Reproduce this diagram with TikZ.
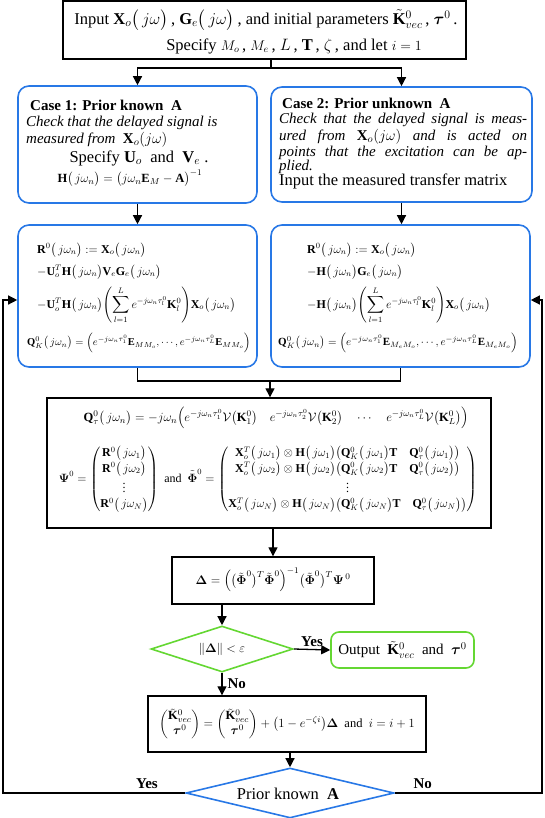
\RequirePackage{fix-cm}
\documentclass[tikz,border=0pt]{standalone}
\usepackage{amsmath}
\usepackage{fontspec}
\setmainfont{Liberation Serif}
\usetikzlibrary{shapes.geometric,arrows.meta}
\definecolor{bluebox}{RGB}{40,120,230}
\definecolor{greenbox}{RGB}{100,215,50}
\newcommand{\pj}[1]{\bigl(\,j\omega_{#1}\bigr)}
\newcommand{\pjw}{\bigl(\,j\omega\bigr)}
\newcommand{\fsz}[1]{\fontsize{#1}{#1}\selectfont}
\tikzset{
  blackbox/.style={draw=black, line width=1.4pt, inner sep=0pt},
  rbox/.style={draw=bluebox, line width=1.6pt, rounded corners=11pt, inner sep=0pt},
  gbox/.style={draw=greenbox, line width=1.6pt, rounded corners=8pt, inner sep=0pt},
  gdiamond/.style={diamond, draw=greenbox, line width=1.6pt, inner sep=0pt},
  bdiamond/.style={diamond, draw=bluebox, line width=1.6pt, inner sep=0pt},
  conn/.style={draw=black, line width=1.3pt},
  arr/.style={conn, -{Triangle[length=9pt,width=9pt]}},
  txtbig/.style={inner sep=0pt, font=\fontsize{16.5}{19}\selectfont},
  boldt/.style={inner sep=0pt, font=\bfseries\fontsize{15}{17}\selectfont},
  itt/.style={inner sep=0pt, font=\itshape\fontsize{15}{17}\selectfont},
  mth/.style={inner sep=0pt, font=\fontsize{12.5}{15}\selectfont},
  mths/.style={inner sep=0pt, font=\fontsize{12}{14}\selectfont},
  lbl/.style={inner sep=1pt, font=\bfseries\fontsize{15}{17}\selectfont},
}
\begin{document}
\begin{tikzpicture}[x=1pt,y=-1pt]
\useasboundingbox (0,0) rectangle (545,818);
% top box
\node[blackbox, minimum width=403pt, minimum height=58pt] (top) at (264.5,30) {};
\node[txtbig] (t1) at (266,20) {Input $\mathbf{X}_o\pjw$\,, $\mathbf{G}_e\pjw$\,, and initial parameters $\tilde{\mathbf{K}}^0_{vec}$\,, $\boldsymbol{\tau}^0$\,.};
\node[txtbig] (t2) at (294,46) {Specify {\fsz{14}$M_o$}\,, {\fsz{14}$M_e$}\,, $L$\,, $\mathbf{T}$\,, $\zeta$\,, and let {\fsz{14}$i=1$}};
% case 1
\node[rbox, minimum width=239pt, minimum height=117pt] (c1) at (137.5,144.5) {};
\node[boldt, anchor=west] (c1a) at (30,105) {Case 1: Prior known \ $\mathbf{A}$};
\node[itt, anchor=west] (c1b) at (26,123) {Check that the delayed signal is};
\node[itt, anchor=west] (c1c) at (26,140) {measured from \ $\mathbf{X}_o(j\omega)$};
\node[txtbig] (c1d) at (139,158) {Specify $\mathbf{U}_o$ \ and \ $\mathbf{V}_e$ .};
\node[mth] (c1e) at (130,178) {$\mathbf{H}\pj{n}=\bigl(j\omega_n\mathbf{E}_M-\mathbf{A}\bigr)^{-1}$};
% case 2
\node[rbox, minimum width=261pt, minimum height=115pt] (c2) at (401.5,144.5) {};
\node[boldt, anchor=west] (c2a) at (282,103) {Case 2: Prior unknown \ $\mathbf{A}$};
\node[itt, anchor=west] (c2b) at (279,120) {\makebox[248pt][s]{Check that the delayed signal is meas-}};
\node[itt, anchor=west] (c2c) at (279,137) {\makebox[248pt][s]{ured from $\mathbf{X}_o(j\omega)$ and is acted on}};
\node[itt, anchor=west] (c2d) at (279,153) {\makebox[248pt][s]{points that the excitation can be ap-}};
\node[itt, anchor=west] (c2e) at (279,167) {plied.};
\node[txtbig, anchor=west] (c2f) at (279,181) {Input the measured transfer matrix};
% formula box 1
\node[rbox, minimum width=239pt, minimum height=142pt] (f1) at (137.5,296) {};
\node[mths, anchor=west] (f1a) at (37,250) {$\mathbf{R}^0\pj{n}:=\mathbf{X}_o\pj{n}$};
\node[mths, anchor=west] (f1b) at (37,272) {$-\mathbf{U}_o^T\mathbf{H}\pj{n}\mathbf{V}_e\mathbf{G}_e\pj{n}$};
\node[mths, anchor=west] (f1c) at (37,305) {$-\mathbf{U}_o^T\mathbf{H}\pj{n}\!\left(\displaystyle\sum_{l=1}^{L}e^{-j\omega_n\tau_l^0}\mathbf{K}_l^0\right)\!\mathbf{X}_o\pj{n}$};
\node[anchor=west, inner sep=0pt, font=\fsz{10.5}] (f1d) at (27,343) {$\mathbf{Q}_K^0\pj{n}=\Bigl(e^{-j\omega_n\tau_1^0}\mathbf{E}_{MM_o}{,}\cdots{,}\,e^{-j\omega_n\tau_L^0}\mathbf{E}_{MM_o}\Bigr)$};
% formula box 2
\node[rbox, minimum width=259pt, minimum height=142pt] (f2) at (400.5,296) {};
\node[mths, anchor=west] (f2a) at (307,250) {$\mathbf{R}^0\pj{n}:=\mathbf{X}_o\pj{n}$};
\node[mths, anchor=west] (f2b) at (307,272) {$-\mathbf{H}\pj{n}\mathbf{G}_e\pj{n}$};
\node[mths, anchor=west] (f2c) at (307,305) {$-\mathbf{H}\pj{n}\!\left(\displaystyle\sum_{l=1}^{L}e^{-j\omega_n\tau_l^0}\mathbf{K}_l^0\right)\!\mathbf{X}_o\pj{n}$};
\node[anchor=west, inner sep=0pt, font=\fsz{11}] (f2d) at (278,343) {$\mathbf{Q}_K^0\pj{n}=\Bigl(e^{-j\omega_n\tau_1^0}\mathbf{E}_{M_eM_o}{,}\cdots{,}\,e^{-j\omega_n\tau_L^0}\mathbf{E}_{M_eM_o}\Bigr)$};
% big box
\node[blackbox, minimum width=444pt, minimum height=130pt] (big) at (269,463) {};
\node[mth] (bq) at (276,418) {$\mathbf{Q}_\tau^0\pj{n}=-j\omega_n\Bigl(e^{-j\omega_n\tau_1^0}\mathcal{V}\bigl(\mathbf{K}_1^0\bigr)\quad e^{-j\omega_n\tau_2^0}\mathcal{V}\bigl(\mathbf{K}_2^0\bigr)\quad\cdots\quad e^{-j\omega_n\tau_L^0}\mathcal{V}\bigl(\mathbf{K}_L^0\bigr)\Bigr)$};
\node[mths] (bm) at (268,479) {\renewcommand{\arraystretch}{1.12}$\boldsymbol{\Psi}^0=\begin{pmatrix}\mathbf{R}^0\pj{1}\\ \mathbf{R}^0\pj{2}\\ \vdots\\ \mathbf{R}^0\pj{N}\end{pmatrix}$ \ and \ $\tilde{\boldsymbol{\Phi}}^0=\begin{pmatrix}\mathbf{X}_o^T\pj{1}\otimes\mathbf{H}\pj{1}\bigl(\mathbf{Q}_K^0\pj{1}\mathbf{T}\quad\mathbf{Q}_\tau^0\pj{1}\bigr)\\ \mathbf{X}_o^T\pj{2}\otimes\mathbf{H}\pj{2}\bigl(\mathbf{Q}_K^0\pj{2}\mathbf{T}\quad\mathbf{Q}_\tau^0\pj{2}\bigr)\\ \vdots\\ \mathbf{X}_o^T\pj{N}\otimes\mathbf{H}\pj{N}\bigl(\mathbf{Q}_K^0\pj{N}\mathbf{T}\quad\mathbf{Q}_\tau^0\pj{N}\bigr)\end{pmatrix}$};
% delta box
\node[blackbox, minimum width=202pt, minimum height=47pt] (dl) at (273,580.5) {};
\node[mth] (dlt) at (273,580) {$\boldsymbol{\Delta}=\Bigl(\bigl(\tilde{\boldsymbol{\Phi}}^0\bigr)^T\tilde{\boldsymbol{\Phi}}^0\Bigr)^{-1}\bigl(\tilde{\boldsymbol{\Phi}}^0\bigr)^T\boldsymbol{\Psi}^{\,0}$};
% diamond 1
\node[gdiamond, minimum width=142pt, minimum height=46pt] (d1) at (222,649) {};
\node[mth] (d1t) at (222,649) {$\lVert\boldsymbol{\Delta}\rVert<\varepsilon$};
% output
\node[gbox, minimum width=143pt, minimum height=36pt, font=\fontsize{15}{17}\selectfont] (out) at (402.5,650) {Output \ $\tilde{\mathbf{K}}^0_{vec}$ \ and \ $\boldsymbol{\tau}^0$};
% update
\node[blackbox, minimum width=278pt, minimum height=56pt] (upd) at (287,724) {};
\node[mth] (updt) at (287,724) {$\begin{pmatrix}\tilde{\mathbf{K}}^0_{vec}\\ \boldsymbol{\tau}^0\end{pmatrix}=\begin{pmatrix}\tilde{\mathbf{K}}^0_{vec}\\ \boldsymbol{\tau}^0\end{pmatrix}+\bigl(1-e^{-\zeta i}\bigr)\boldsymbol{\Delta}$ \ and \ $i=i+1$};
% diamond 2
\node[bdiamond, minimum width=208pt, minimum height=50pt] (d2) at (290,793) {};
\node[txtbig] (d2t) at (288,794) {Prior known \ $\mathbf{A}$};
% connectors
\coordinate (sp) at (271,68);
\coordinate (mg) at (270,381);
\coordinate (lx) at (3,300);
\coordinate (rx) at (542,300);
\draw[conn] (top.south -| sp) -- (sp);
\draw[arr] (sp) -| (c1.north);
\draw[arr] (sp) -| (c2.north);
\draw[arr] (c1.south) -- (f1.north);
\draw[arr] (c2.south) -- (c2.south |- f2.north);
\draw[conn] (f1.south) -- (f1.south |- mg) -- (f2.south |- mg) -- (f2.south);
\draw[arr] (mg) -- (mg |- big.north);
\draw[arr] (big.south -| dl.north) -- (dl.north);
\draw[arr] (dl.south -| d1.north) -- (d1.north);
\draw[arr] (d1.east) -- node[lbl, above=1pt] (ly1) {Yes} (out.west);
\draw[arr] (d1.south) -- node[lbl, right=4pt] (ln1) {No} (d1.south |- upd.north);
\draw[arr] (upd.south -| d2.north) -- (d2.north);
\draw[arr] (d2.west) -- node[lbl, above=3pt, pos=0.21] (ly2) {Yes} (d2.west -| lx) -- (lx) -- (lx -| f1.west);
\draw[arr] (d2.east) -- node[lbl, above=3pt, pos=0.19] (ln2) {No} (d2.east -| rx) -- (rx) -- (rx -| f2.east);
\end{tikzpicture}
\end{document}
